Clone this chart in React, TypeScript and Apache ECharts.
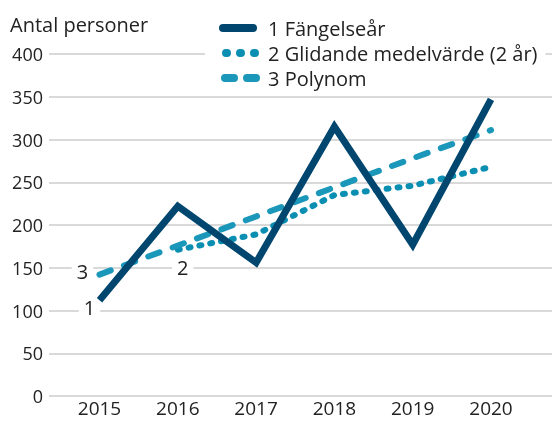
import React, { useEffect, useRef } from "react";
import * as echarts from "echarts";

const years = [2015, 2016, 2017, 2018, 2019, 2020];
const fangelsear = [112, 222, 156, 315, 177, 347];
const glidandeYears = [2016, 2017, 2018, 2019, 2020];
const glidande = [171, 189, 235, 246, 268];
const polynom = [142, 176, 210, 244, 278, 311];
const yTicks = [0, 50, 100, 150, 200, 250, 300, 350, 400];
const seriesNames = ["1 Fängelseår", "2 Glidande medelvärde (2 år)", "3 Polynom"];

const FONT = "'Open Sans', sans-serif";
const TEXT = "#222222";
const C1 = "#00466e";
const C2 = "#0a8fb2";
const C3 = "#1a97b9";

export default function App() {
  const ref = useRef<HTMLDivElement>(null);
  useEffect(() => {
    if (!ref.current) return;
    const chart = echarts.init(ref.current, null, { renderer: "svg" });
    const labelStyle = {
      show: true,
      position: "inside",
      fontSize: 20,
      fontFamily: FONT,
      color: TEXT,
      backgroundColor: "#ffffff",
      padding: [0, 5, 0, 5],
    };
    chart.setOption({
      animation: false,
      textStyle: { fontFamily: FONT },
      title: {
        text: "Antal personer",
        left: 10,
        top: 14,
        padding: 0,
        textStyle: { fontFamily: FONT, fontSize: 20, fontWeight: "normal", color: TEXT },
      },
      legend: {
        orient: "vertical",
        left: 205,
        top: 10,
        padding: [8, 8, 4, 8],
        backgroundColor: "#ffffff",
        itemGap: 5,
        itemWidth: 44,
        itemHeight: 8,
        itemStyle: { opacity: 0 },
        textStyle: { fontFamily: FONT, fontSize: 20, color: TEXT, padding: [0, 0, 0, 2] },
        data: [
          { name: seriesNames[0], lineStyle: { width: 8, cap: "round", type: [30, 100], dashOffset: -6 } },
          { name: seriesNames[1], lineStyle: { width: 8, cap: "round", type: [1, 13], dashOffset: -9.5 } },
          { name: seriesNames[2], lineStyle: { width: 8, cap: "round", type: [9, 13], dashOffset: -8 } },
        ],
      },
      grid: { left: 49, right: 0, top: 54, bottom: 27, containLabel: false },
      xAxis: {
        type: "value",
        min: 2014.355,
        max: 2020.779,
        axisLine: { show: false },
        axisTick: { show: false },
        splitLine: { show: false },
        axisLabel: {
          customValues: years,
          formatter: (v: number) => String(Math.round(v)),
          fontSize: 19,
          lineHeight: 18,
          fontFamily: FONT,
          color: TEXT,
          margin: 3,
        },
      },
      yAxis: {
        type: "value",
        min: yTicks[0],
        max: yTicks[yTicks.length - 1],
        interval: 50,
        axisLine: { show: false },
        axisTick: { show: false },
        axisLabel: { fontSize: 18, fontFamily: FONT, color: TEXT, margin: 6 },
        splitLine: { lineStyle: { color: "#d9d9d9", width: 2 } },
      },
      series: [
        {
          name: seriesNames[0],
          type: "line",
          data: years.map((y, i) => [y, fangelsear[i]]),
          showSymbol: false,
          symbol: "none",
          color: C1,
          lineStyle: { color: C1, width: 7, join: "miter" },
          z: 5,
          markPoint: {
            symbol: "circle",
            symbolSize: 0,
            data: [
              {
                coord: [years[0], fangelsear[0]],
                label: { ...labelStyle, formatter: "1", offset: [-10, 7] },
              },
            ],
          },
        },
        {
          name: seriesNames[1],
          type: "line",
          data: glidandeYears.map((y, i) => [y, glidande[i]]),
          showSymbol: false,
          symbol: "none",
          color: C2,
          lineStyle: { color: C2, width: 6, type: [2, 9], cap: "round" },
          z: 3,
          markPoint: {
            symbol: "circle",
            symbolSize: 0,
            data: [
              {
                coord: [glidandeYears[0], glidande[0]],
                label: { ...labelStyle, formatter: "2", offset: [5, 18] },
              },
            ],
          },
        },
        {
          name: seriesNames[2],
          type: "line",
          data: years.map((y, i) => [y, polynom[i]]),
          showSymbol: false,
          symbol: "none",
          color: C3,
          lineStyle: { color: C3, width: 6, type: [12, 14], cap: "round" },
          z: 4,
          markPoint: {
            symbol: "circle",
            symbolSize: 0,
            data: [
              {
                coord: [years[0], polynom[0]],
                label: { ...labelStyle, formatter: "3", offset: [-17, -3] },
              },
            ],
          },
        },
      ],
    });
    return () => chart.dispose();
  }, []);
  return <div ref={ref} style={{ width: 552, height: 423, position: "fixed", left: 0, top: 0 }} />;
}
